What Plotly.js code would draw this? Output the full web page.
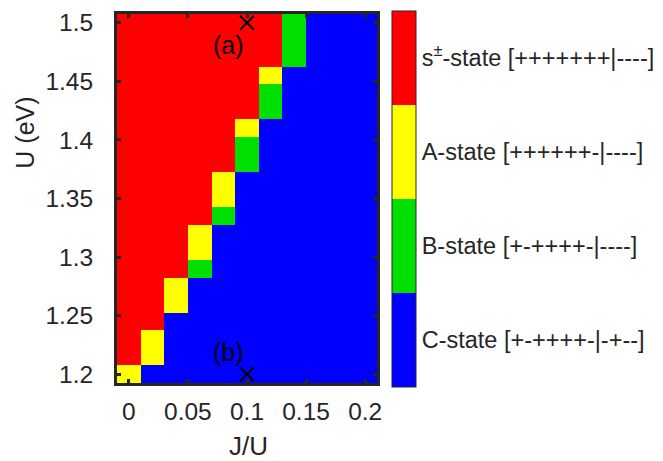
<!DOCTYPE html>
<html>
<head>
<meta charset="utf-8">
<script src="https://cdn.plot.ly/plotly-3.0.1.min.js"></script>
<style>html,body{margin:0;padding:0;background:#fff;}#chart{width:663px;height:461px;}</style>
</head>
<body>
<div id="chart"></div>
<script>
// J/U values (columns)
const jOverU = [0, 0.02, 0.04, 0.06, 0.08, 0.10, 0.12, 0.14, 0.16, 0.18, 0.20];
// U values in eV (rows)
const uValues = [1.200, 1.215, 1.230, 1.245, 1.260, 1.275, 1.290, 1.305, 1.320, 1.335, 1.350,
                 1.365, 1.380, 1.395, 1.410, 1.425, 1.440, 1.455, 1.470, 1.485, 1.500];
// state codes: 1 = C-state, 2 = B-state, 3 = A-state, 4 = s± state
const stateGrid = [
  [3,1,1,1,1,1,1,1,1,1,1],
  [4,3,1,1,1,1,1,1,1,1,1],
  [4,3,1,1,1,1,1,1,1,1,1],
  [4,4,1,1,1,1,1,1,1,1,1],
  [4,4,3,1,1,1,1,1,1,1,1],
  [4,4,3,1,1,1,1,1,1,1,1],
  [4,4,4,2,1,1,1,1,1,1,1],
  [4,4,4,3,1,1,1,1,1,1,1],
  [4,4,4,3,1,1,1,1,1,1,1],
  [4,4,4,4,2,1,1,1,1,1,1],
  [4,4,4,4,3,1,1,1,1,1,1],
  [4,4,4,4,3,1,1,1,1,1,1],
  [4,4,4,4,4,2,1,1,1,1,1],
  [4,4,4,4,4,2,1,1,1,1,1],
  [4,4,4,4,4,3,1,1,1,1,1],
  [4,4,4,4,4,4,2,1,1,1,1],
  [4,4,4,4,4,4,2,1,1,1,1],
  [4,4,4,4,4,4,3,1,1,1,1],
  [4,4,4,4,4,4,4,2,1,1,1],
  [4,4,4,4,4,4,4,2,1,1,1],
  [4,4,4,4,4,4,4,2,1,1,1]
];
const stateCodes = [1, 2, 3, 4];
const stateLabels = [
  'C-state [+-++++-|-+--]',
  'B-state [+-++++-|----]',
  'A-state [++++++-|----]',
  's<sup>±</sup>-state [+++++++|----]'
];
const stateColors = ['#0000FF', '#00E000', '#FFFF00', '#FF0000'];
// marked points
const markX = [0.1, 0.1];
const markY = [1.5, 1.2];
const markLabels = ['(a)', '(b)'];
const xTitle = 'J/U';
const yTitle = 'U (eV)';

const n = stateColors.length;
const colorscale = [];
stateColors.forEach((c, i) => {
  colorscale.push([i / n, c]);
  colorscale.push([(i + 1) / n, c]);
});

const ink = '#262626';
const fontFam = 'Liberation Sans, Arial, Helvetica, sans-serif';

const heat = {
  type: 'heatmap',
  x: jOverU,
  y: uValues,
  z: stateGrid,
  zmin: 0.5,
  zmax: 4.5,
  colorscale: colorscale,
  hoverinfo: 'skip',
  colorbar: {
    tickvals: stateCodes,
    ticktext: stateLabels,
    ticks: '',
    thickness: 24,
    thicknessmode: 'pixels',
    len: 376,
    lenmode: 'pixels',
    x: (392 - 117) / 260,
    xanchor: 'left',
    xpad: 0,
    y: 1 + 2 / 370,
    yanchor: 'top',
    ypad: 0,
    outlinewidth: 1,
    outlinecolor: ink,
    tickfont: {family: fontFam, size: 23.5, color: ink}
  }
};

const marks = {
  type: 'scatter',
  mode: 'markers',
  x: markX,
  y: markY,
  marker: {symbol: 'x-thin', size: 14, color: '#000', line: {width: 2, color: '#000'}},
  cliponaxis: false,
  hoverinfo: 'skip',
  showlegend: false
};

const axisCommon = {
  showline: true,
  linecolor: ink,
  linewidth: 3,
  mirror: 'ticks',
  ticks: 'inside',
  ticklen: 4,
  tickwidth: 3,
  tickcolor: ink,
  showgrid: false,
  zeroline: false,
  tickfont: {family: fontFam, size: 24.5, color: ink}
};

const layout = {
  width: 663,
  height: 461,
  margin: {l: 117, r: 286, t: 13, b: 78, pad: 0},
  paper_bgcolor: '#fff',
  plot_bgcolor: '#fff',
  showlegend: false,
  font: {family: fontFam, color: ink},
  xaxis: Object.assign({}, axisCommon, {
    range: [-0.01, 0.21],
    tick0: 0, dtick: 0.05,
    ticklabelstandoff: 5
  }),
  yaxis: Object.assign({}, axisCommon, {
    range: [1.1925, 1.5075],
    tick0: 1.2, dtick: 0.05,
    ticklabelstandoff: 16
  }),
  annotations: [
    {x: 0.084, y: 1.481, xref: 'x', yref: 'y', text: markLabels[0], showarrow: false,
     font: {family: fontFam, size: 25, color: '#000'}},
    {x: 0.084, y: 1.219, xref: 'x', yref: 'y', text: markLabels[1], showarrow: false,
     font: {family: fontFam, size: 25, color: '#000'}},
    {x: (25 - 117) / 260, y: 1 - (132 - 13) / 370, xref: 'paper', yref: 'paper',
     text: yTitle, textangle: -90, showarrow: false, xanchor: 'center', yanchor: 'middle',
     font: {family: fontFam, size: 25, color: ink}},
    {x: (248.5 - 117) / 260, y: 1 - (446 - 13) / 370, xref: 'paper', yref: 'paper',
     text: xTitle, showarrow: false, xanchor: 'center', yanchor: 'middle',
     font: {family: fontFam, size: 26, color: ink}}
  ]
};

Plotly.newPlot('chart', [heat, marks], layout, {displayModeBar: false, staticPlot: true});
</script>
</body>
</html>
